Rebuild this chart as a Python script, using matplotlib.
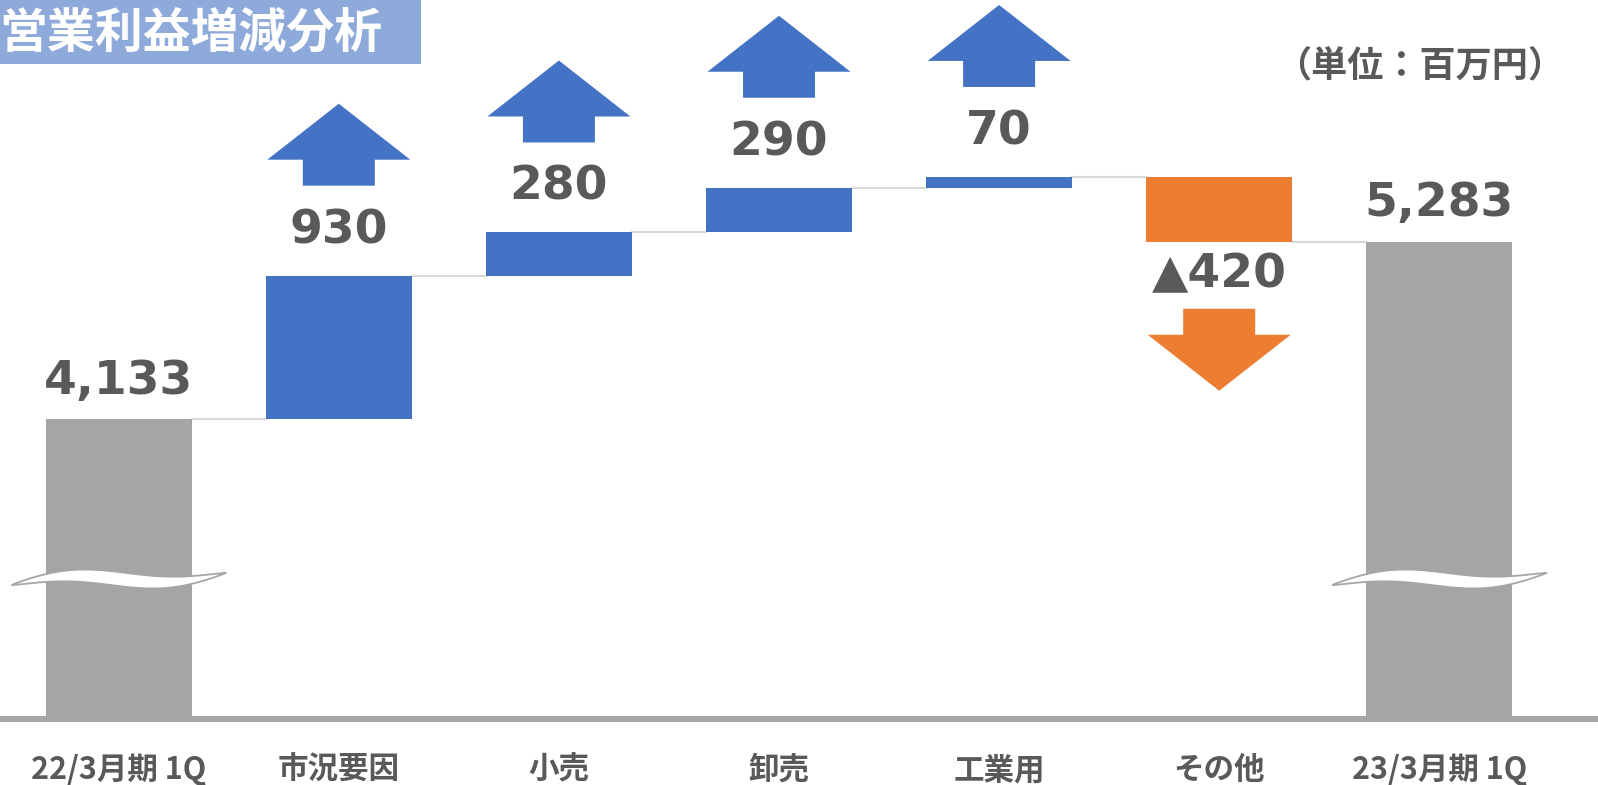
import matplotlib
matplotlib.use('Agg')
import matplotlib.pyplot as plt
import matplotlib.transforms as mtransforms
from matplotlib.patches import Polygon, Rectangle
import numpy as np

# chart data
categories = ['22/3月期 1Q', '市況要因', '小売', '卸売', '工業用', 'その他', '23/3月期 1Q']
values = [4133, 930, 280, 290, 70, -420, 5283]
is_total = [True, False, False, False, False, False, True]

title = '営業利益増減分析'
unit_label = '（単位：百万円）'

GRAY = '#a5a5a5'
BLUE = '#4472c4'
ORANGE = '#ed7d31'
TEXT = '#595959'
CONNECTOR = '#d9d9d9'

JP = ['Noto Sans CJK JP', 'DejaVu Sans']
NUM = ['DejaVu Sans', 'Noto Sans CJK JP']


def fmt_value(v):
    if v < 0:
        return '▲' + f'{-v:,}'
    return f'{v:,}'


def waterfall(values, is_total):
    bottoms, heights, ends = [], [], []
    running = 0
    for v, tot in zip(values, is_total):
        if tot:
            bottoms.append(0)
            heights.append(v)
            running = v
        else:
            bottoms.append(running)
            heights.append(v)
            running += v
        ends.append(running)
    return bottoms, heights, ends


def break_mark(ax, x, height_px=139, half_w=107):
    # wavy white band across a bar, drawn in pixel units
    t = np.linspace(0, 1, 80)
    xs = -half_w + 2 * half_w * t
    center = height_px - 5 + 12 * t + 6 * np.sin(2 * np.pi * t)
    th = 14 * np.sin(np.pi * t) ** 0.8
    top = np.column_stack([xs, center + th / 2])
    bot = np.column_stack([xs[::-1], (center - th / 2)[::-1]])
    verts = np.vstack([top, bot])
    trans = mtransforms.ScaledTranslation(
        x, 0, mtransforms.blended_transform_factory(ax.transData, ax.transAxes))
    ax.add_patch(Polygon(verts, closed=True, facecolor='white', edgecolor='#a6a6a6',
                         linewidth=1.3, transform=trans, zorder=4, clip_on=False))


def arrow(ax, x, y, color, up=True, gap=40):
    s = 1 if up else -1
    pts = [(-36, gap), (36, gap), (36, gap + 26), (71.5, gap + 26),
           (0, gap + 82), (-71.5, gap + 26), (-36, gap + 26)]
    verts = [(px, s * py) for px, py in pts]
    trans = mtransforms.ScaledTranslation(x, y, ax.transData)
    ax.add_patch(Polygon(verts, closed=True, facecolor=color, edgecolor='none',
                         transform=trans, zorder=3, clip_on=False))


def main_function():
    W, H = 1598, 785
    fig = plt.figure(figsize=(W / 100, H / 100), dpi=100)

    base_px = 719
    ax = fig.add_axes([0, (H - base_px) / H, 1, base_px / H])
    px_per_unit = 0.1543
    y0 = 2190
    ax.set_ylim(y0, y0 + base_px / px_per_unit)
    step, x0 = 220.1, 118.7
    ax.set_xlim(-x0 / step, (W - x0) / step)

    bottoms, heights, ends = waterfall(values, is_total)
    xs = np.arange(len(values))
    colors = [GRAY if t else (BLUE if v >= 0 else ORANGE) for v, t in zip(values, is_total)]
    width = 146 / step
    ax.bar(xs, heights, bottom=bottoms, width=width, color=colors, zorder=2)

    # connectors
    for i in range(len(values) - 1):
        ax.plot([xs[i] + width / 2, xs[i + 1] - width / 2], [ends[i], ends[i]],
                color=CONNECTOR, lw=1.5, zorder=1)

    # labels and arrows
    for i, (v, tot) in enumerate(zip(values, is_total)):
        top = max(bottoms[i], bottoms[i] + heights[i])
        low = min(bottoms[i], bottoms[i] + heights[i])
        if tot:
            ax.annotate(fmt_value(v), (i, top), xytext=(0, 38), textcoords='offset pixels',
                        ha='center', va='center', fontsize=34, fontweight='bold',
                        color=TEXT, family=NUM)
        elif v >= 0:
            ax.annotate(fmt_value(v), (i, top), xytext=(0, 45), textcoords='offset pixels',
                        ha='center', va='center', fontsize=34, fontweight='bold',
                        color=TEXT, family=NUM)
            arrow(ax, i, top, BLUE, up=True, gap=50 + 40)
        else:
            ax.annotate(fmt_value(v), (i, low), xytext=(0, -33), textcoords='offset pixels',
                        ha='center', va='center', fontsize=34, fontweight='bold',
                        color=TEXT, family=NUM)
            arrow(ax, i, low, ORANGE, up=False, gap=28 + 39)

    for i in xs[np.array(is_total)]:
        break_mark(ax, i)

    # category labels
    for i, cat in enumerate(categories):
        ax.annotate(cat, (i, 0), xycoords=('data', 'axes fraction'), xytext=(0, -51),
                    textcoords='offset pixels', ha='center', va='center',
                    fontsize=22, fontweight='bold', color=TEXT, family=JP,
                    annotation_clip=False)

    for side in ['top', 'left', 'right']:
        ax.spines[side].set_visible(False)
    ax.spines['bottom'].set_color('#a6a6a6')
    ax.spines['bottom'].set_linewidth(4.3)
    ax.set_xticks([])
    ax.set_yticks([])
    ax.patch.set_visible(False)

    # title box
    fig.add_artist(Rectangle((0, 1 - 64 / H), 421 / W, 64 / H, transform=fig.transFigure,
                             facecolor='#8eaadb', edgecolor='none', zorder=0))
    fig.text(-1 / W, 1 - 33 / H, title, ha='left', va='center', fontsize=34.5,
             fontweight='bold', color='white', family=JP)
    fig.text(1420 / W, 1 - 66 / H, unit_label, ha='center', va='center', fontsize=26,
             fontweight='bold', color=TEXT, family=JP)

    fig.savefig('out.png', dpi=100, facecolor='white')


if __name__ == '__main__':
    main_function()
